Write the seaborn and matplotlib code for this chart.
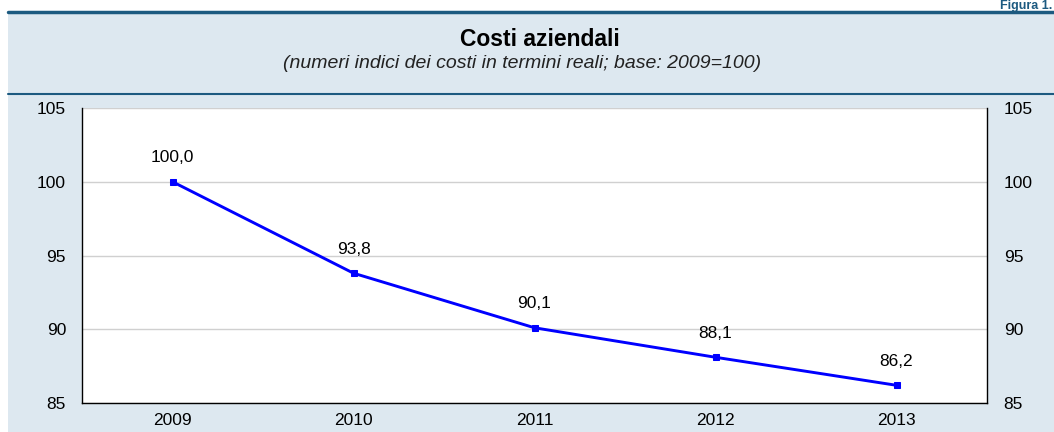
import matplotlib
matplotlib.use("Agg")
import matplotlib.pyplot as plt
import seaborn as sns
import pandas as pd
from matplotlib.patches import Rectangle
from matplotlib.lines import Line2D

years = ["2009", "2010", "2011", "2012", "2013"]
values = [100.0, 93.8, 90.1, 88.1, 86.2]
y_ticks = [85, 90, 95, 100, 105]

title = "Costi aziendali"
subtitle = "(numeri indici dei costi in termini reali; base: 2009=100)"
figlabel = "Figura 1."

sns.set_theme(style="white")
plt.rcParams["font.family"] = ["Liberation Sans", "DejaVu Sans"]

W, H = 1054, 432
fig = plt.figure(figsize=(W / 100, H / 100), dpi=100)
fig.patch.set_facecolor("white")

panel = "#dde8f0"
dark = "#1c5a80"
fig.patches.append(Rectangle((8 / W, 0), 1 - 8 / W, 1 - 12 / H, transform=fig.transFigure,
                             facecolor=panel, edgecolor="none", zorder=-10))
fig.lines.append(Line2D([8 / W, 1], [1 - 12 / H, 1 - 12 / H], transform=fig.transFigure,
                        color=dark, linewidth=2.5, zorder=-5))
fig.lines.append(Line2D([8 / W, 1], [1 - 94 / H, 1 - 94 / H], transform=fig.transFigure,
                        color=dark, linewidth=1.5, zorder=-5))

fig.text(1052 / W, 1 - 0.5 / H, figlabel, ha="right", va="top", fontsize=9,
         fontweight="bold", color=dark)
fig.text(540 / W, 1 - 39 / H, title, ha="center", va="center", fontsize=16.5, fontweight="bold",
         color="black")
fig.text(522 / W, 1 - 64 / H, subtitle, ha="center", va="center", fontsize=14, style="italic",
         color="#222222")

left, right, top, bottom = 82, 987, 108, 403
ax = fig.add_axes([left / W, 1 - bottom / H, (right - left) / W, (bottom - top) / H])
ax.set_facecolor("white")

df = pd.DataFrame({"year": years, "value": values})
sns.lineplot(data=df, x="year", y="value", ax=ax, color="#0000ff", linewidth=2.1,
             marker="s", markersize=5, markeredgecolor="#0000ff", sort=False)

ax.set_xlim(-0.5, len(years) - 0.5)
ax.set_ylim(85, 105)
ax.set_yticks(y_ticks)
ax.set_yticklabels([str(t) for t in y_ticks])
ax.set_xticks(range(len(years)))
ax.set_xticklabels(years)
ax.grid(axis="y", color="#d0d0d0", linewidth=1)
ax.set_axisbelow(True)
ax.set_xlabel("")
ax.set_ylabel("")
ax.tick_params(axis="both", length=0, labelsize=12.5, colors="black")
ax.tick_params(axis="y", pad=11.5)
ax.tick_params(axis="x", pad=7)
for s in ["left", "bottom", "right"]:
    ax.spines[s].set_visible(True)
    ax.spines[s].set_color("black")
    ax.spines[s].set_linewidth(1)
ax.spines["top"].set_visible(False)

for i, v in enumerate(values):
    ax.annotate(f"{v:.1f}".replace(".", ","), (i, v), xytext=(0, 12), textcoords="offset points",
                ha="center", va="bottom", fontsize=12.5, color="black")

ax2 = ax.twinx()
ax2.set_ylim(85, 105)
ax2.set_yticks(y_ticks)
ax2.set_yticklabels([str(t) for t in y_ticks])
ax2.tick_params(axis="y", length=0, labelsize=12.5, pad=12, colors="black")
for s in ax2.spines.values():
    s.set_visible(False)
ax2.grid(False)

fig.savefig("out.png", dpi=100, facecolor=fig.get_facecolor())
